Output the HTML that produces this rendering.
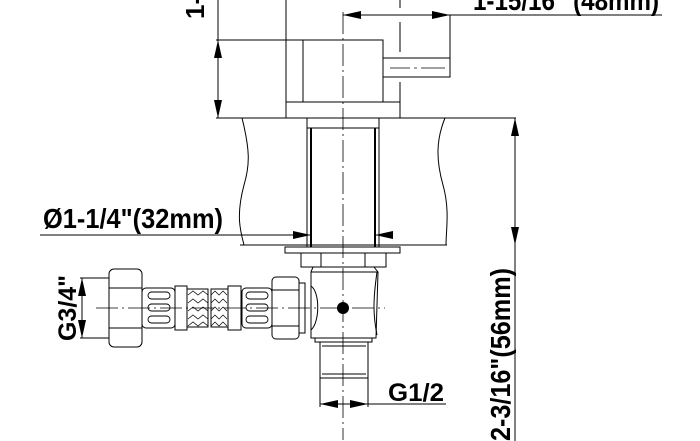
<!DOCTYPE html>
<html><head><meta charset="utf-8"><style>
html,body{margin:0;padding:0;background:#fff;}
svg{display:block;}
text{font-family:"Liberation Sans",sans-serif;font-weight:bold;fill:#000;}
</style></head><body>
<svg width="700" height="441" viewBox="0 0 700 441" xmlns="http://www.w3.org/2000/svg">
<g fill="none" stroke="#000" stroke-width="1">
<line x1="218" y1="0" x2="218" y2="118"/>
<line x1="216" y1="40" x2="383" y2="40"/>
<line x1="216" y1="118" x2="516" y2="118"/>
<line x1="286" y1="0" x2="286" y2="118"/>
<rect x="303" y="40" width="80" height="62"/>
<line x1="286" y1="102" x2="400" y2="102"/>
<line x1="400" y1="82" x2="400" y2="118"/>
<line x1="400" y1="0" x2="400" y2="8" />
<line x1="400" y1="22" x2="400" y2="52"/>
<rect x="383" y="58" width="67" height="19"/>
<line x1="390" y1="68" x2="410" y2="68" stroke-width="0.7"/>
<line x1="414" y1="68" x2="417" y2="68" stroke-width="0.7"/>
<line x1="421" y1="68" x2="445" y2="68" stroke-width="0.7"/>
<line x1="343" y1="15" x2="662" y2="15"/>
<line x1="450" y1="15" x2="450" y2="77"/>
<line x1="343" y1="12" x2="343" y2="440" stroke-dasharray="22,4,2,4" stroke-width="0.8"/>
<path d="M242 118 C250 150,250 165,244 185 C236 215,240 230,244 245"/>
<path d="M445 118 C436 140,436 160,443 185 C450 210,446 230,446 245"/>
<line x1="240" y1="245" x2="447" y2="245"/>
<line x1="515" y1="118" x2="515" y2="441"/>
<rect x="307" y="118" width="72" height="10"/>
<line x1="311" y1="128" x2="311" y2="247" stroke-width="2"/>
<line x1="307" y1="128" x2="307" y2="247"/>
<line x1="375" y1="128" x2="375" y2="247" stroke-width="2"/>
<line x1="379" y1="128" x2="379" y2="247"/>
<line x1="40" y1="235" x2="311" y2="235"/>
<line x1="375" y1="235" x2="385" y2="235"/>
<rect x="285" y="247" width="115" height="6"/>
<rect x="301" y="253" width="85" height="14"/>
<line x1="321" y1="253" x2="321" y2="267"/>
<line x1="365" y1="253" x2="365" y2="267"/>
<path d="M313 267 L311 272 L311 338 L376 338 L378 272 L374 267"/>
<path d="M311 272 L377 272 C373 300,373 315,377 335"/>
<path d="M311 286 C320 292,320 322,311 330"/>
<rect x="315" y="338" width="57" height="4"/>
<rect x="320" y="342" width="48" height="36"/>
<line x1="322" y1="346" x2="366" y2="346"/>
<line x1="322" y1="374" x2="366" y2="374"/>
<line x1="320" y1="378" x2="320" y2="407"/>
<line x1="368" y1="378" x2="368" y2="407"/>
<line x1="320" y1="404" x2="446" y2="404"/>
<line x1="96" y1="308" x2="385" y2="308" stroke-dasharray="22,4,2,4" stroke-width="0.8"/>
<rect x="109" y="269" width="33" height="78" rx="5"/>
<line x1="109" y1="288" x2="142" y2="288"/>
<line x1="109" y1="328" x2="142" y2="328"/>
<rect x="142" y="288" width="33" height="40" rx="4"/>
<rect x="242" y="288" width="30" height="40" rx="4"/>
<g stroke-width="0.9">
<rect x="148" y="292" width="22" height="7" rx="3.5"/><rect x="148" y="304" width="22" height="7" rx="3.5"/><rect x="148" y="316" width="22" height="7" rx="3.5"/>
<rect x="246" y="292" width="22" height="7" rx="3.5"/><rect x="246" y="304" width="22" height="7" rx="3.5"/><rect x="246" y="316" width="22" height="7" rx="3.5"/>
</g>
<rect x="175" y="286" width="12" height="44"/>
<rect x="228" y="286" width="13" height="44"/>
<rect x="187" y="289" width="21" height="38"/>
<rect x="211" y="289" width="17" height="38"/>
<path d="M188 295 l5 -4 l5 4 l5 -4 l5 4 M188 303 l5 -4 l5 4 l5 -4 l5 4 M188 311 l5 -4 l5 4 l5 -4 l5 4 M188 319 l5 -4 l5 4 l5 -4 l5 4 M188 326 l5 -4 l5 4 l5 -4 l5 4 M211 295 l4 -4 l4 4 l4 -4 l4 4 M211 303 l4 -4 l4 4 l4 -4 l4 4 M211 311 l4 -4 l4 4 l4 -4 l4 4 M211 319 l4 -4 l4 4 l4 -4 l4 4 M211 326 l4 -4 l4 4 l4 -4 l4 4" stroke-width="0.7"/>
<rect x="272" y="277" width="27" height="62" rx="4"/>
<line x1="272" y1="290" x2="299" y2="290"/>
<line x1="272" y1="326" x2="299" y2="326"/>
<rect x="299" y="283" width="6" height="50"/>
<line x1="82" y1="278" x2="82" y2="338"/>
<line x1="80" y1="278" x2="109" y2="278"/>
<line x1="80" y1="338" x2="109" y2="338"/>
</g>
<circle cx="343" cy="308" r="6" fill="#000"/>
<g fill="#000">
<polygon points="218,40 214,58 222,58"/><polygon points="218,118 214,100 222,100"/>
<polygon points="343,15 361,11 361,19"/><polygon points="450,15 432,11 432,19"/>
<polygon points="515,118 511,136 519,136"/><polygon points="515,245 511,227 519,227"/>
<polygon points="311,235 293,231 293,239"/><polygon points="375,235 393,231 393,239"/>
<polygon points="82,278 78,296 86,296"/><polygon points="82,338 78,320 86,320"/>
<polygon points="320,404 338,400 338,408"/><polygon points="368,404 350,400 350,408"/>
</g>
<text x="473" y="10" font-size="28" textLength="186" lengthAdjust="spacingAndGlyphs">1-15/16" (48mm)</text>
<text x="43" y="228" font-size="28" textLength="180" lengthAdjust="spacingAndGlyphs">Ø1-1/4"(32mm)</text>
<text x="388" y="401" font-size="25" textLength="56" lengthAdjust="spacingAndGlyphs">G1/2</text>
<text transform="translate(76,341) rotate(-90)" font-size="25" textLength="66" lengthAdjust="spacingAndGlyphs">G3/4"</text>
<text transform="translate(510,441) rotate(-90)" font-size="28" textLength="173" lengthAdjust="spacingAndGlyphs">2-3/16"(56mm)</text>
<text transform="translate(204,19) rotate(-90)" font-size="26">1-</text>
</svg>
</body></html>
